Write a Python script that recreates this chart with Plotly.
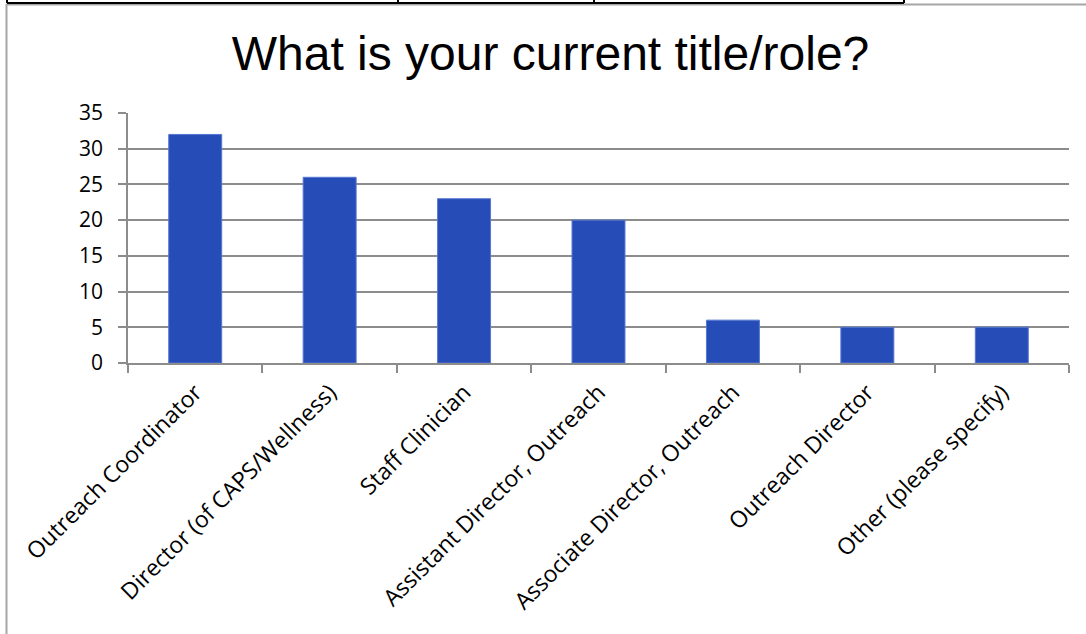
import plotly.graph_objects as go

# Survey responses: current title / role
roles = [
    "Outreach Coordinator",
    "Director (of CAPS/Wellness)",
    "Staff Clinician",
    "Assistant Director, Outreach",
    "Associate Director, Outreach",
    "Outreach Director",
    "Other (please specify)",
]
counts = [32, 26, 23, 20, 6, 5, 5]
y_ticks = [0, 5, 10, 15, 20, 25, 30, 35]

W, H = 1086, 634
L, R, T, B = 128, 17, 113, 271
plot_w = W - L - R
plot_h = H - T - B

GRID = "#8c8c8c"
BAR = "#264cb8"


def px_x(px):
    return (px - L) / plot_w


def px_y(py):
    return (H - B - py) / plot_h


fig = go.Figure(
    go.Bar(
        x=roles,
        y=counts,
        marker=dict(color=BAR, line=dict(color="#5677d2", width=1)),
        hoverinfo="x+y",
    )
)

# frame lines around the chart area and the table edge above it
def frame_line(x0, y0, x1, y1, color, width):
    return dict(type="line", xref="paper", yref="paper",
                x0=px_x(x0), x1=px_x(x1), y0=px_y(y0), y1=px_y(y1),
                line=dict(color=color, width=width))


shapes = [
    frame_line(6.5, 4.5, W + 2, 4.5, "#a6a6a6", 2),
    frame_line(6.5, 4, 6.5, H + 2, "#a6a6a6", 2),
    frame_line(7, 3, 904, 3, "black", 2),
]
for vx in (7, 398, 594, 904):
    shapes.append(frame_line(vx, -2, vx, 3, "black", 2))

fig.update_layout(
    width=W,
    height=H,
    margin=dict(l=L, r=R, t=T, b=B, autoexpand=False),
    paper_bgcolor="white",
    plot_bgcolor="white",
    showlegend=False,
    bargap=0.606,
    title=dict(
        text="What is your current title/role?",
        font=dict(family="Liberation Sans, Arial, sans-serif", size=48, color="black"),
        xref="container",
        yref="container",
        x=550.5 / W,
        xanchor="center",
        y=1 - 53 / H,
        yanchor="middle",
    ),
    shapes=shapes,
    xaxis=dict(
        type="category",
        tickangle=-45,
        tickfont=dict(family="Open Sans, sans-serif", size=23, color="black"),
        showline=True,
        linecolor=GRID,
        linewidth=1.5,
        ticks="outside",
        tickson="boundaries",
        ticklen=8,
        tickcolor=GRID,
        tickwidth=1.5,
        showgrid=False,
        ticklabelstandoff=5,
        fixedrange=True,
    ),
    yaxis=dict(
        range=[0, 35],
        tickvals=y_ticks,
        tickfont=dict(family="Open Sans, sans-serif", size=21, color="black"),
        showline=True,
        linecolor=GRID,
        linewidth=1.5,
        ticks="outside",
        ticklen=8,
        tickcolor=GRID,
        tickwidth=1.5,
        showgrid=True,
        gridcolor=GRID,
        gridwidth=1.5,
        zeroline=False,
        ticklabelstandoff=11,
        fixedrange=True,
    ),
)

fig.write_html("out.html")
